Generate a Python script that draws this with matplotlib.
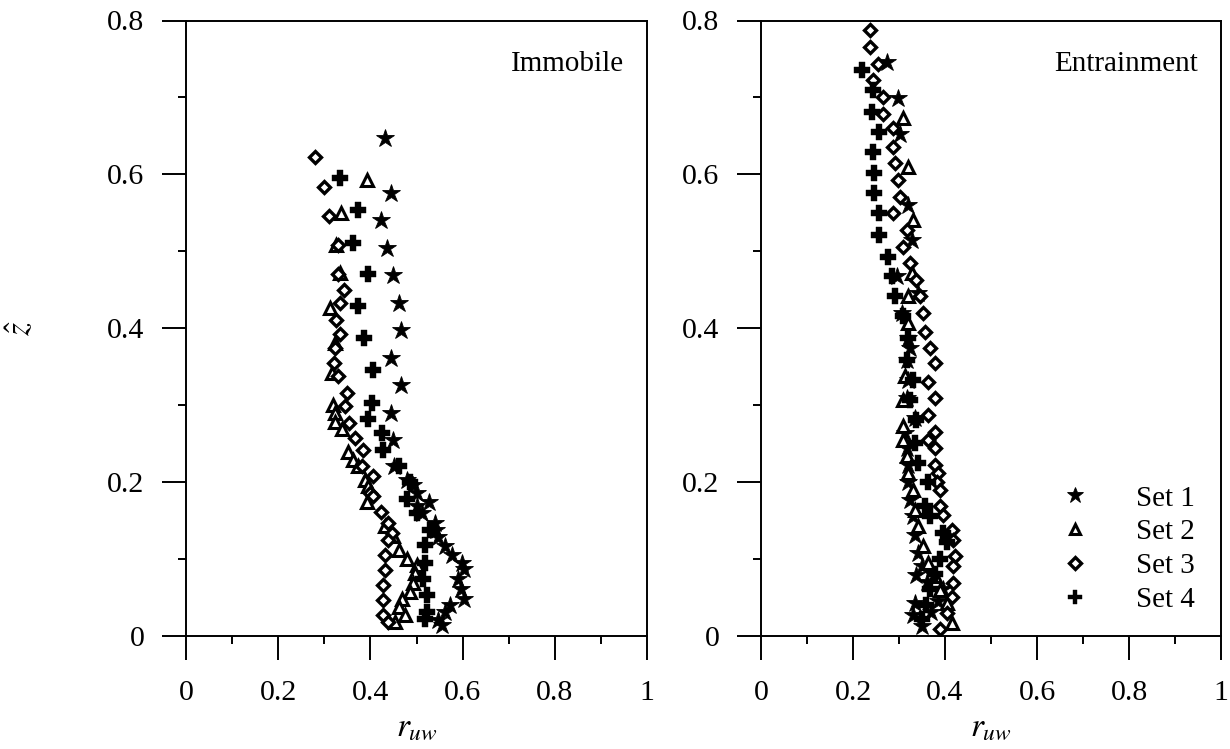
import matplotlib
matplotlib.use("Agg")
import matplotlib.pyplot as plt
from matplotlib.ticker import MultipleLocator

plt.rcParams['font.family'] = ['Liberation Serif', 'DejaVu Serif']
plt.rcParams['mathtext.fontset'] = 'stix'

# ---------------- Immobile (left) ----------------
imm_s1_x = [0.432,0.445,0.422,0.437,0.448,0.461,0.466,0.444,0.466,0.444,0.450,0.452,0.479,0.493,0.500,0.528,0.500,0.511,0.540,0.542,0.547,0.562,0.576,0.598,0.602,0.591,0.596,0.602,0.573,0.562,0.547,0.555]
imm_s1_y = [0.647,0.575,0.540,0.504,0.469,0.433,0.397,0.361,0.326,0.290,0.254,0.220,0.202,0.196,0.185,0.174,0.168,0.159,0.146,0.137,0.128,0.116,0.105,0.094,0.087,0.074,0.061,0.048,0.040,0.031,0.020,0.014]

imm_s2_x = [0.392,0.336,0.325,0.333,0.312,0.323,0.316,0.319,0.323,0.323,0.338,0.352,0.363,0.374,0.388,0.395,0.392,0.432,0.450,0.461,0.479,0.500,0.497,0.493,0.486,0.468,0.461,0.475,0.453]
imm_s2_y = [0.592,0.549,0.508,0.471,0.426,0.380,0.341,0.300,0.289,0.278,0.268,0.239,0.228,0.220,0.202,0.194,0.174,0.142,0.129,0.111,0.100,0.092,0.081,0.068,0.057,0.048,0.037,0.027,0.018]

imm_s3_x = [0.280,0.300,0.311,0.330,0.329,0.343,0.333,0.325,0.333,0.323,0.322,0.330,0.349,0.345,0.354,0.367,0.385,0.381,0.405,0.399,0.406,0.422,0.439,0.446,0.439,0.432,0.432,0.428,0.428,0.428,0.439]
imm_s3_y = [0.623,0.584,0.546,0.508,0.470,0.449,0.432,0.411,0.392,0.374,0.354,0.337,0.315,0.298,0.277,0.257,0.241,0.220,0.207,0.186,0.181,0.161,0.146,0.133,0.124,0.105,0.085,0.066,0.046,0.027,0.018]

imm_s4_x = [0.333,0.374,0.363,0.395,0.374,0.386,0.405,0.403,0.394,0.425,0.428,0.461,0.486,0.479,0.500,0.529,0.518,0.518,0.515,0.522,0.522,0.518]
imm_s4_y = [0.595,0.553,0.511,0.470,0.429,0.387,0.346,0.303,0.281,0.264,0.241,0.220,0.200,0.178,0.160,0.137,0.118,0.094,0.074,0.053,0.031,0.022]

# ---------------- Entrainment (right) ----------------
ent_s1_x = [0.273,0.298,0.302,0.320,0.328,0.295,0.342,0.306,0.320,0.324,0.317,0.320,0.317,0.335,0.313,0.317,0.320,0.320,0.324,0.331,0.335,0.342,0.338,0.350,0.360,0.335,0.331,0.349,0.370,0.385,0.395]
ent_s1_y = [0.746,0.699,0.653,0.560,0.514,0.467,0.445,0.419,0.387,0.374,0.358,0.332,0.309,0.283,0.263,0.244,0.222,0.200,0.176,0.155,0.131,0.107,0.079,0.090,0.070,0.042,0.027,0.012,0.030,0.045,0.060]

ent_s2_x = [0.309,0.320,0.331,0.328,0.320,0.320,0.313,0.309,0.309,0.309,0.317,0.320,0.331,0.335,0.342,0.353,0.364,0.378,0.389,0.404,0.415]
ent_s2_y = [0.673,0.610,0.540,0.471,0.441,0.406,0.337,0.306,0.272,0.254,0.233,0.211,0.189,0.163,0.142,0.116,0.094,0.077,0.059,0.042,0.016]

ent_s3_x = [0.237,0.237,0.255,0.244,0.266,0.265,0.288,0.288,0.291,0.298,0.302,0.288,0.317,0.309,0.324,0.338,0.346,0.353,0.357,0.367,0.378,0.364,0.378,0.364,0.378,0.364,0.378,0.378,0.385,0.382,0.389,0.389,0.396,0.415,0.418,0.422,0.418,0.418,0.415,0.404,0.389]
ent_s3_y = [0.788,0.766,0.744,0.723,0.701,0.679,0.660,0.636,0.614,0.593,0.571,0.549,0.527,0.506,0.484,0.462,0.441,0.419,0.395,0.374,0.354,0.330,0.309,0.287,0.265,0.254,0.244,0.222,0.211,0.200,0.189,0.168,0.157,0.137,0.124,0.103,0.090,0.068,0.050,0.029,0.009]

ent_s4_x = [0.219,0.244,0.241,0.257,0.244,0.246,0.246,0.257,0.257,0.277,0.284,0.291,0.309,0.320,0.317,0.331,0.324,0.338,0.335,0.342,0.364,0.357,0.367,0.396,0.404,0.390,0.378,0.368,0.358,0.350]
ent_s4_y = [0.736,0.710,0.681,0.655,0.629,0.601,0.575,0.549,0.521,0.493,0.467,0.441,0.415,0.387,0.358,0.332,0.306,0.280,0.250,0.224,0.200,0.168,0.155,0.133,0.122,0.100,0.080,0.060,0.040,0.022]

set_labels = ['Set 1', 'Set 2', 'Set 3', 'Set 4']
panel_titles = ['Immobile', 'Entrainment']
x_ticks = [0, 0.2, 0.4, 0.6, 0.8, 1]
x_ticklabels = ['0', '0.2', '0.4', '0.6', '0.8', '1']
y_ticks = [0, 0.2, 0.4, 0.6, 0.8]
y_ticklabels = ['0', '0.2', '0.4', '0.6', '0.8']

styles = [
    dict(marker='*', ms=13.5, mfc='black', mec='black', mew=0.6),
    dict(marker='^', ms=8.5, mfc='white', mec='black', mew=2.2),
    dict(marker='D', ms=6.5, mfc='white', mec='black', mew=2.4),
    dict(marker='P', ms=11.5, mfc='black', mec='black', mew=0.3),
]

fig = plt.figure(figsize=(12.3, 7.49), dpi=100)
axL = fig.add_axes([186/1230, 1-635.5/749, 461/1230, 615/749])
axR = fig.add_axes([761/1230, 1-635.5/749, 460/1230, 615/749])

data = [
    [(imm_s1_x, imm_s1_y), (imm_s2_x, imm_s2_y), (imm_s3_x, imm_s3_y), (imm_s4_x, imm_s4_y)],
    [(ent_s1_x, ent_s1_y), (ent_s2_x, ent_s2_y), (ent_s3_x, ent_s3_y), (ent_s4_x, ent_s4_y)],
]

for ax, series, title in zip([axL, axR], data, panel_titles):
    for (xs, ys), st, lab in zip(series, styles, set_labels):
        ax.plot(xs, ys, linestyle='none', label=lab, **st)
    ax.set_xlim(0, 1)
    ax.set_ylim(0, 0.8)
    ax.set_xticks(x_ticks)
    ax.set_xticklabels(x_ticklabels)
    ax.set_yticks(y_ticks)
    ax.set_yticklabels(y_ticklabels)
    ax.xaxis.set_minor_locator(MultipleLocator(0.1))
    ax.yaxis.set_minor_locator(MultipleLocator(0.1))
    ax.tick_params(which='major', direction='out', length=17, width=1.4, labelsize=21.5)
    ax.tick_params(axis='x', which='major', pad=15)
    ax.tick_params(axis='y', which='major', pad=13)
    ax.tick_params(which='minor', direction='out', length=6, width=1.4)
    for sp in ax.spines.values():
        sp.set_linewidth(1.4)
    ax.text(0.95, 0.93, title, transform=ax.transAxes, ha='right', va='center', fontsize=21)
    ax.set_xlabel(r'$r_{uw}$', fontsize=24, labelpad=4)

axL.set_ylabel(r'$\hat{z}$', fontsize=24, rotation=90, labelpad=50)

leg = axR.legend(loc='lower right', bbox_to_anchor=(0.943, 0.037), frameon=False,
                 fontsize=21, handletextpad=1.6, labelspacing=0.25, borderpad=0,
                 borderaxespad=0, handlelength=1.0, markerscale=0.9)

fig.savefig('out.png', dpi=100)
